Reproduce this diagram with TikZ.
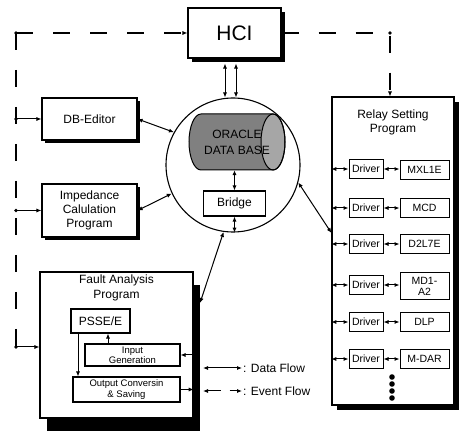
\documentclass[tikz,border=0pt]{standalone}
\usepackage{fontspec}
\setmainfont{Liberation Sans}
\usetikzlibrary{arrows.meta,shadows}
\begin{document}
\begin{tikzpicture}[x=1pt,y=-1pt,
  box/.style={draw,line width=1.1pt,fill=white,inner sep=0pt,align=center,font=\fontsize{12}{14}\selectfont},
  sbox/.style={draw,line width=1pt,fill=white,inner sep=0pt,align=center,font=\fontsize{10.5}{11}\selectfont},
  shad/.style={drop shadow={shadow xshift=#1,shadow yshift=-#1,fill=black,opacity=1}},
  data/.style={line width=1pt,{Latex[length=5pt,width=4.2pt]}-{Latex[length=5pt,width=4.2pt]}},
  tip/.style={line width=1pt,-{Latex[length=5pt,width=4.2pt]}},
  ev/.style={line width=1.1pt,dash pattern=on 17pt off 20pt},
  txt/.style={inner sep=0pt,align=center,font=\fontsize{12}{14}\selectfont},
]
\useasboundingbox (0,0) rectangle (459,435);

% ---- boxes ----
\node[box,shad=4pt,minimum width=93pt,minimum height=50pt,font=\fontsize{21}{24}\selectfont] (HCI) at (234.5,33) {HCI};
\node[box,shad=3pt,minimum width=95pt,minimum height=42pt] (DBE) at (89.5,119) {DB-Editor};
\node[box,shad=3pt,minimum width=95pt,minimum height=53pt] (IMP) at (89.5,210.5) {Impedance\\Calulation\\Program};

\node[box,drop shadow={shadow xshift=7pt,shadow yshift=-13pt,fill=black,opacity=1},minimum width=153pt,minimum height=146pt] (FA) at (116.5,345) {};
\node[txt,font=\fontsize{12}{15}\selectfont] (FAt) at (116.5,288) {Fault Analysis\\Program};
\node[box,minimum width=59pt,minimum height=24pt] (PS) at (100.5,321) {PSSE/E};
\node[box,minimum width=95pt,minimum height=22pt,font=\fontsize{9.5}{10}\selectfont] (IG) at (132.5,355) {Input\\Generation};
\node[box,minimum width=107pt,minimum height=25pt,font=\fontsize{9.5}{11}\selectfont] (OC) at (126.5,389.5) {Output Conversin\\\& Saving};

% ---- database circle ----
\node[draw,circle,line width=1.1pt,minimum size=134pt,inner sep=0pt] (circ) at (233,165) {};
\fill[black!50] (201,114) -- (273,114) arc[start angle=-90,end angle=90,x radius=12,y radius=28] -- (201,170) arc[start angle=90,end angle=270,x radius=12,y radius=28] -- cycle;
\fill[black!35] (273,142) ellipse[x radius=12,y radius=28];
\draw[line width=1pt] (201,114) -- (273,114) arc[start angle=-90,end angle=90,x radius=12,y radius=28] -- (201,170) arc[start angle=90,end angle=270,x radius=12,y radius=28] -- cycle;
\draw[line width=1pt] (273,142) ellipse[x radius=12,y radius=28];
\node[txt,minimum width=96pt,minimum height=56pt,font=\fontsize{12}{16}\selectfont] (db) at (237,142) {ORACLE\\DATA BASE};
\node[box,minimum width=62pt,minimum height=25pt] (BR) at (234.5,203.5) {Bridge};

% ---- relay setting program ----
\node[box,shad=5pt,minimum width=122pt,minimum height=308pt] (RS) at (393,251) {};
\node[txt] (RSt) at (393,122) {Relay Setting\\Program};

\node[sbox,minimum width=34pt,minimum height=19pt] (D1) at (366,169) {Driver};
\node[sbox,minimum width=49pt,minimum height=19pt] (M1) at (424.5,170) {MXL1E};
\node[sbox,minimum width=34pt,minimum height=19pt] (D2) at (366,208) {Driver};
\node[sbox,minimum width=49pt,minimum height=19pt] (M2) at (424.5,208) {MCD};
\node[sbox,minimum width=34pt,minimum height=19pt] (D3) at (366,244) {Driver};
\node[sbox,minimum width=49pt,minimum height=19pt] (M3) at (424.5,244) {D2L7E};
\node[sbox,minimum width=34pt,minimum height=19pt] (D4) at (366,285) {Driver};
\node[sbox,minimum width=49pt,minimum height=27pt] (M4) at (424.5,286) {MD1-\\A2};
\node[sbox,minimum width=34pt,minimum height=19pt] (D5) at (366,322) {Driver};
\node[sbox,minimum width=49pt,minimum height=19pt] (M5) at (424.5,322) {DLP};
\node[sbox,minimum width=34pt,minimum height=19pt] (D6) at (366,359) {Driver};
\node[sbox,minimum width=49pt,minimum height=19pt] (M6) at (424.5,359) {M-DAR};

\foreach \i in {1,...,6}{
  \draw[data] (RS.west |- D\i.west) -- (D\i.west);
  \draw[data] (D\i.east) -- (M\i.west |- D\i.east);
}
\foreach \y in {377,384,391,398}{ \fill (392,\y) circle (2.8pt); }

% ---- data flow connectors ----
\draw[data] ([xshift=-9.5pt,yshift=-5pt]HCI.south) -- ([xshift=-9.5pt]HCI.south |- circ.north);
\draw[data] ([xshift=1.5pt,yshift=-5pt]HCI.south) -- ([xshift=1.5pt]HCI.south |- circ.north);
\draw[data] (BR.north |- db.south) -- (BR.north);
\draw[data] (BR.south) -- (BR.south |- circ.south);
\draw[data] (DBE.east) -- (circ.151);
\draw[data] (IMP.east) -- (circ.205);
\coordinate (fain) at (200,303);
\draw[data] (circ.262) -- (fain);
\draw[data] (circ.-15) -- ([yshift=18pt]RS.west);

% ---- inside fault analysis ----
\draw[tip] ([xshift=-24.5pt]IG.north) -- ([xshift=7.5pt]PS.south);
\draw[tip] ([xshift=-22.5pt]PS.south) -- ([xshift=-48.5pt]OC.north);
\draw[tip] (FA.east |- IG.east) -- (IG.east);
\draw[tip] (OC.east) -- (OC.east -| FA.east);

% ---- event flow (dashed) ----
\coordinate (L0) at (16,33);
\coordinate (L1) at (16,347);
\coordinate (R0) at (390,33);
\draw[ev] (L0) -- (L1);
\draw[ev,-{Latex[length=5pt,width=4.2pt]}] (L0) -- (HCI.west);
\draw[tip] (L0 |- DBE.west) -- (DBE.west);
\draw[tip] (L0 |- IMP.west) -- (IMP.west);
\draw[tip] (L1) -- (FA.west |- L1);
\fill (L0) circle (1.8pt);
\fill (L0 |- DBE.west) circle (1.8pt);
\fill (L0 |- IMP.west) circle (1.8pt);
\fill (L1) circle (1.8pt);
\draw[ev,-{Latex[length=5pt,width=4.2pt]}] (HCI.east) -- (R0) -- (R0 |- RS.north);
\fill (R0) circle (1.8pt);

% ---- legend ----
\coordinate (lga) at (203,368);
\coordinate (lgb) at (242,368);
\coordinate (lgc) at (203,391);
\coordinate (lgd) at (242,391);
\draw[data] (lga) -- (lgb);
\node[txt,anchor=west] (lgt1) at ([xshift=1pt]lgb) {: Data Flow};
\draw[data,dash pattern=on 13pt off 9pt] (lgc) -- (lgd);
\node[txt,anchor=west] (lgt2) at ([xshift=1pt]lgd) {: Event Flow};
\end{tikzpicture}
\end{document}
